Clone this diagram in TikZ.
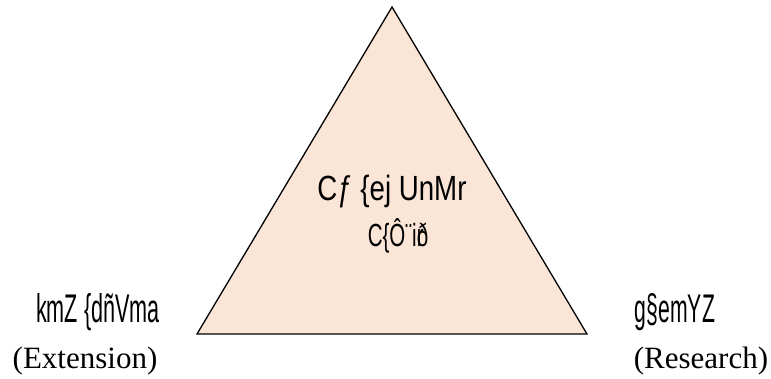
\documentclass[tikz,border=0pt]{standalone}
\usepackage{fontspec}
\setmainfont{Liberation Serif}
\newfontfamily\garbfont{Liberation Sans}
\definecolor{peach}{HTML}{FBE5D6}
\tikzset{
  garb/.style={anchor=base, inner sep=0pt, font=\garbfont\fontsize{40bp}{40bp}\selectfont},
  eng/.style={anchor=base, inner sep=0pt, font=\fontsize{31bp}{31bp}\selectfont},
  tri/.style={draw=black, line width=1.3bp, fill=peach, line join=miter}
}
\begin{document}
\begin{tikzpicture}[x=1bp,y=-1bp]
\useasboundingbox (0,0) rectangle (771,378);
\coordinate (apex) at (392,7);
\coordinate (bl) at (197,334);
\coordinate (br) at (587,334);
\draw[tri] (apex) -- (br) -- (bl) -- cycle;
\node[garb, font=\garbfont\fontsize{35bp}{35bp}\selectfont] (core1) at (392,200) {\scalebox{0.79}[1]{Cƒ \{ej UnMr}};
\node[garb, font=\garbfont\fontsize{32bp}{32bp}\selectfont] (core2) at (398,246) {\scalebox{0.64}[1]{C\{Ô¨i\rlap{r}ð}};
\node[garb] (ext) at (98,322) {\scalebox{0.54}[1]{kmZ \{dñVma}};
\node[garb] (res) at (675,322) {\scalebox{0.53}[1]{g§emYZ}};
\node[eng] (exten) at (85,368) {(Extension)};
\node[eng] (resen) at (701,368) {(Research)};
\end{tikzpicture}
\end{document}
